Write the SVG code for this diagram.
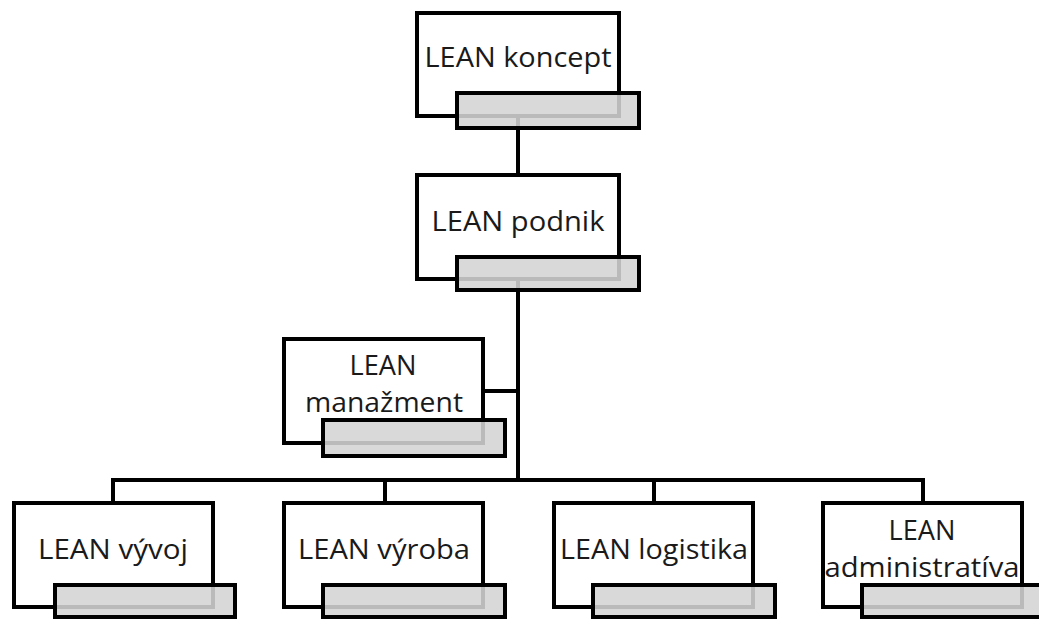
<svg xmlns="http://www.w3.org/2000/svg" width="1039" height="620" viewBox="0 0 1039 620">
<style>
.box{fill:#fff;stroke:#000;stroke-width:4}
.tab{fill:#d4d4d4;fill-opacity:0.88;stroke:#000;stroke-width:4}
.ln{fill:none;stroke:#000;stroke-width:4}
text{font-family:"Open Sans","Liberation Sans",sans-serif;font-size:28px;fill:#1a1a1a;text-anchor:middle}
</style>
<rect width="1039" height="620" fill="#fff"/>
<g id="connectors">
<path class="ln" d="M518 116V175"/>
<path class="ln" d="M518 279V480"/>
<path class="ln" d="M483 391H518"/>
<path class="ln" d="M113 503V480H923V503"/>
<path class="ln" d="M385 480V503"/>
<path class="ln" d="M654 480V503"/>
</g>
<g id="n-koncept">
<rect class="box" x="417" y="13" width="202" height="103"/>
<rect class="tab" x="457" y="93" width="182" height="35"/>
<text x="518" y="67" textLength="187" lengthAdjust="spacingAndGlyphs">LEAN koncept</text>
</g>
<g id="n-podnik">
<rect class="box" x="417" y="175" width="202" height="104"/>
<rect class="tab" x="457" y="257" width="182" height="33"/>
<text x="518" y="231" textLength="173" lengthAdjust="spacingAndGlyphs">LEAN podnik</text>
</g>
<g id="n-manazment">
<rect class="box" x="284" y="339" width="199" height="104"/>
<rect class="tab" x="323" y="420" width="182" height="36"/>
<text x="383" y="375" textLength="67" lengthAdjust="spacingAndGlyphs">LEAN</text>
<text x="384" y="412" textLength="158" lengthAdjust="spacingAndGlyphs">manažment</text>
</g>
<g id="n-vyvoj">
<rect class="box" x="14" y="503" width="199" height="104"/>
<rect class="tab" x="55" y="585" width="180" height="32"/>
<text x="113" y="559" textLength="150" lengthAdjust="spacingAndGlyphs">LEAN vývoj</text>
</g>
<g id="n-vyroba">
<rect class="box" x="284" y="503" width="199" height="104"/>
<rect class="tab" x="323" y="585" width="182" height="32"/>
<text x="384" y="559" textLength="172" lengthAdjust="spacingAndGlyphs">LEAN výroba</text>
</g>
<g id="n-logistika">
<rect class="box" x="554" y="503" width="199" height="104"/>
<rect class="tab" x="593" y="585" width="182" height="32"/>
<text x="654" y="559" textLength="188" lengthAdjust="spacingAndGlyphs">LEAN logistika</text>
</g>
<g id="n-administrativa">
<rect class="box" x="823" y="503" width="199" height="104"/>
<rect class="tab" x="862" y="585" width="182" height="32"/>
<text x="922" y="540" textLength="67" lengthAdjust="spacingAndGlyphs">LEAN</text>
<text x="922" y="577" textLength="195" lengthAdjust="spacingAndGlyphs">administratíva</text>
</g>
</svg>
